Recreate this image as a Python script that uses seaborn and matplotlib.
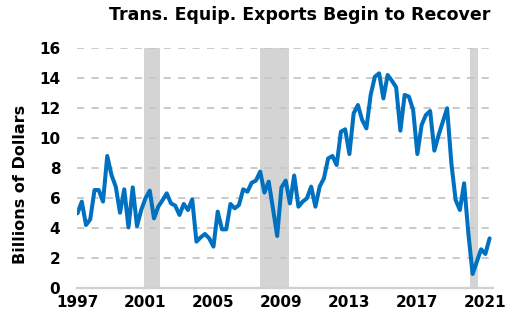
import numpy as np
import pandas as pd
import matplotlib
matplotlib.use("Agg")
import matplotlib.pyplot as plt
import seaborn as sns

# Quarterly transportation equipment exports, billions of dollars (1997Q1 - 2021Q2)
values = [
    4.98, 5.76, 4.20, 4.58,    # 1997
    6.53, 6.53, 5.76, 8.80,    # 1998
    7.53, 6.76, 5.02, 6.58,    # 1999
    4.04, 6.71, 4.13, 5.20,    # 2000
    5.98, 6.49, 4.64, 5.42,    # 2001
    5.85, 6.31, 5.64, 5.49,    # 2002
    4.87, 5.60, 5.20, 5.91,    # 2003
    3.09, 3.38, 3.60, 3.31,    # 2004
    2.76, 5.09, 3.91, 3.91,    # 2005
    5.60, 5.31, 5.53, 6.58,    # 2006
    6.42, 7.02, 7.16, 7.76,    # 2007
    6.36, 7.09, 5.31, 3.47,    # 2008
    6.70, 7.16, 5.64, 7.50,    # 2009
    5.42, 5.76, 5.98, 6.76,    # 2010
    5.42, 6.76, 7.31, 8.64,    # 2011
    8.80, 8.20, 10.42, 10.58,  # 2012
    8.93, 11.64, 12.20, 11.20, # 2013
    10.64, 12.87, 14.09, 14.31,# 2014
    12.64, 14.20, 13.82, 13.38,# 2015
    10.49, 12.87, 12.76, 11.87,# 2016
    8.93, 10.87, 11.53, 11.80, # 2017
    9.16, 10.20, 11.09, 11.98, # 2018
    8.31, 5.87, 5.20, 6.98,    # 2019
    3.64, 0.93, 1.76, 2.58,    # 2020
    2.27, 3.31,                # 2021
]
start_year = 1997
dates = [start_year + i / 4 for i in range(len(values))]

recession_starts = [2000.9, 2007.72, 2020.08]
recession_ends = [2001.88, 2009.47, 2020.57]

tick_years = [1997, 2001, 2005, 2009, 2013, 2017, 2021]
y_ticks = [0, 2, 4, 6, 8, 10, 12, 14, 16]

title = "Trans. Equip. Exports Begin to Recover"
ylabel = "Billions of Dollars"

df = pd.DataFrame({"date": dates, "value": values})

sns.set_style("white")
plt.rcParams["font.family"] = ["DejaVu Sans"]

fig = plt.figure(figsize=(5.25, 3.3), dpi=100)
ax = fig.add_axes([77 / 525, 42 / 330, (493 - 77) / 525, 240 / 330])

for s, e in zip(recession_starts, recession_ends):
    ax.axvspan(s, e, color="#d4d4d4", lw=0, zorder=0)

for yv in y_ticks[1:]:
    ax.axhline(yv, color="#c6c6c6", lw=1.3, ls=(0, (4, 4)), zorder=1)

sns.lineplot(data=df, x="date", y="value", ax=ax, color="#0070C0", lw=2.9, zorder=3)

ax.set_xlim(1996.97, 2021.45)
ax.set_ylim(0, 16)
ax.set_xticks(tick_years)
ax.set_xticklabels([str(t) for t in tick_years], fontweight="bold", fontsize=11, color="black")
ax.set_yticks(y_ticks)
ax.set_yticklabels([str(t) for t in y_ticks], fontweight="bold", fontsize=11, color="black")
ax.tick_params(axis="both", length=0)
ax.tick_params(axis="y", pad=12)
ax.tick_params(axis="x", pad=5)
ax.set_xlabel("")
ax.set_ylabel(ylabel, fontweight="bold", fontsize=11.5, color="black")
ax.yaxis.set_label_coords(-0.118, 0.43)

for side in ["left", "right", "top"]:
    ax.spines[side].set_visible(False)
ax.spines["bottom"].set_color("#d0d0d0")
ax.spines["bottom"].set_linewidth(1.6)
ax.grid(False)

fig.text(300 / 525, 1 - 15 / 330, title, ha="center", va="center",
         fontweight="bold", fontsize=12.5, color="black")

fig.savefig("out.png", dpi=100)
